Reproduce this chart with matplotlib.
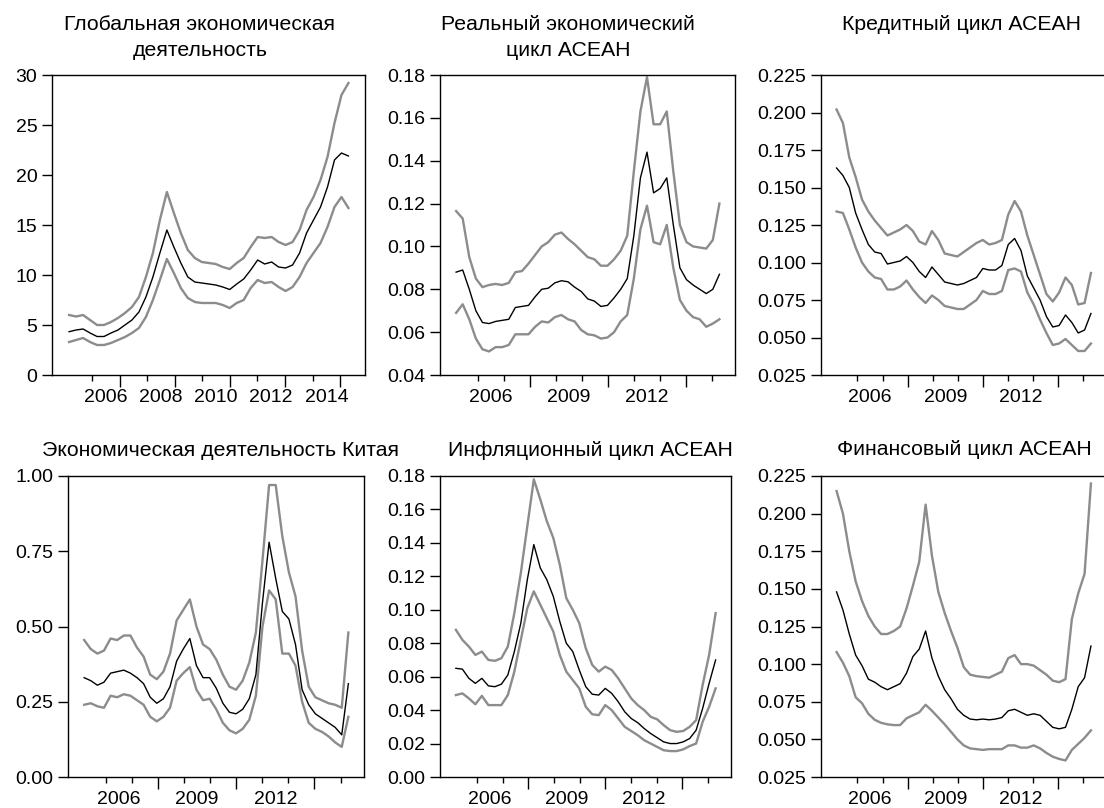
import numpy as np
import matplotlib
matplotlib.use('Agg')
import matplotlib.pyplot as plt

plt.rcParams['font.family'] = ['Liberation Sans', 'DejaVu Sans']

# quarterly-ish time index, spring 2005 .. spring 2015
dates = np.linspace(2005.17, 2015.3, 41)

# Глобальная экономическая деятельность
glob_mid = [4.33, 4.5, 4.6, 4.2, 3.85, 3.85, 4.2, 4.5, 5.0, 5.5, 6.3, 7.8, 9.8, 12.2, 14.5, 12.8, 11.2, 9.8, 9.3, 9.2,
            9.1, 9.0, 8.8, 8.55, 9.1, 9.6, 10.5, 11.5, 11.1, 11.3, 10.8, 10.7, 11.0, 12.2, 14.2, 15.5, 16.8, 18.8, 21.5, 22.2, 21.9]
glob_hi = [6.0, 5.85, 6.0, 5.5, 5.0, 5.0, 5.3, 5.7, 6.2, 6.8, 7.8, 9.8, 12.2, 15.5, 18.3, 16.2, 14.2, 12.5, 11.7, 11.3,
           11.2, 11.1, 10.8, 10.6, 11.2, 11.7, 12.8, 13.8, 13.7, 13.8, 13.3, 13.0, 13.3, 14.5, 16.5, 17.8, 19.5, 21.8, 25.2, 28.0, 29.2]
glob_lo = [3.3, 3.5, 3.7, 3.3, 3.0, 3.0, 3.2, 3.5, 3.8, 4.2, 4.7, 5.8, 7.5, 9.5, 11.6, 10.2, 8.7, 7.7, 7.3, 7.2,
           7.2, 7.2, 7.0, 6.7, 7.2, 7.5, 8.7, 9.5, 9.2, 9.3, 8.8, 8.4, 8.8, 9.8, 11.2, 12.2, 13.2, 14.8, 16.8, 17.8, 16.7]

# Реальный экономический цикл АСЕАН
real_mid = [0.088, 0.089, 0.080, 0.070, 0.0645, 0.064, 0.065, 0.0655, 0.066, 0.0715, 0.072, 0.0725, 0.0765, 0.080,
            0.0805, 0.083, 0.084, 0.0835, 0.081, 0.079, 0.0755, 0.0745, 0.072, 0.0725, 0.076, 0.080, 0.085, 0.105,
            0.132, 0.144, 0.125, 0.127, 0.132, 0.110, 0.090, 0.0845, 0.082, 0.080, 0.078, 0.080, 0.087]
real_hi = [0.1165, 0.113, 0.095, 0.085, 0.081, 0.082, 0.0825, 0.082, 0.083, 0.088, 0.0885, 0.092, 0.096, 0.100,
           0.102, 0.1055, 0.1065, 0.1035, 0.101, 0.098, 0.095, 0.094, 0.091, 0.091, 0.094, 0.098, 0.105, 0.135,
           0.163, 0.179, 0.157, 0.157, 0.163, 0.135, 0.110, 0.102, 0.100, 0.0995, 0.099, 0.103, 0.120]
real_lo = [0.069, 0.073, 0.066, 0.057, 0.052, 0.051, 0.053, 0.053, 0.054, 0.059, 0.059, 0.059, 0.0625, 0.065,
           0.0645, 0.067, 0.068, 0.066, 0.065, 0.061, 0.059, 0.0585, 0.057, 0.0575, 0.060, 0.065, 0.068, 0.085,
           0.108, 0.119, 0.102, 0.101, 0.110, 0.090, 0.075, 0.070, 0.067, 0.066, 0.0625, 0.064, 0.066]

# Кредитный цикл АСЕАН
cred_mid = [0.163, 0.158, 0.150, 0.133, 0.122, 0.112, 0.107, 0.106, 0.099, 0.100, 0.101, 0.104, 0.100, 0.094,
            0.090, 0.097, 0.092, 0.087, 0.086, 0.085, 0.086, 0.088, 0.090, 0.096, 0.095, 0.095, 0.098, 0.112,
            0.116, 0.108, 0.091, 0.083, 0.075, 0.064, 0.057, 0.058, 0.065, 0.060, 0.053, 0.055, 0.066]
cred_hi = [0.202, 0.193, 0.170, 0.157, 0.142, 0.134, 0.128, 0.123, 0.118, 0.120, 0.122, 0.125, 0.121, 0.114,
           0.112, 0.121, 0.115, 0.106, 0.105, 0.104, 0.107, 0.110, 0.113, 0.115, 0.112, 0.113, 0.115, 0.132,
           0.141, 0.134, 0.118, 0.105, 0.092, 0.079, 0.074, 0.080, 0.090, 0.085, 0.072, 0.073, 0.093]
cred_lo = [0.134, 0.133, 0.122, 0.110, 0.100, 0.094, 0.090, 0.089, 0.082, 0.082, 0.084, 0.088, 0.082, 0.077,
           0.073, 0.078, 0.075, 0.071, 0.070, 0.069, 0.069, 0.072, 0.075, 0.081, 0.079, 0.079, 0.081, 0.095,
           0.096, 0.094, 0.080, 0.072, 0.062, 0.053, 0.045, 0.046, 0.049, 0.045, 0.041, 0.041, 0.046]

# Экономическая деятельность Китая
china_mid = [0.33, 0.32, 0.305, 0.315, 0.345, 0.35, 0.355, 0.345, 0.33, 0.31, 0.265, 0.245, 0.26, 0.30, 0.385,
             0.425, 0.46, 0.37, 0.33, 0.33, 0.295, 0.245, 0.215, 0.21, 0.225, 0.26, 0.34, 0.58, 0.78, 0.66, 0.55,
             0.525, 0.44, 0.29, 0.24, 0.21, 0.195, 0.18, 0.165, 0.14, 0.31]
china_hi = [0.455, 0.425, 0.41, 0.42, 0.46, 0.455, 0.47, 0.47, 0.43, 0.40, 0.34, 0.325, 0.35, 0.41, 0.52, 0.555,
            0.59, 0.50, 0.44, 0.425, 0.39, 0.34, 0.30, 0.29, 0.32, 0.38, 0.48, 0.72, 0.97, 0.97, 0.80, 0.68, 0.60,
            0.42, 0.30, 0.265, 0.255, 0.245, 0.24, 0.23, 0.48]
china_lo = [0.24, 0.245, 0.235, 0.23, 0.27, 0.265, 0.275, 0.27, 0.255, 0.24, 0.20, 0.185, 0.20, 0.23, 0.32, 0.345,
            0.365, 0.29, 0.255, 0.26, 0.225, 0.18, 0.155, 0.145, 0.16, 0.19, 0.27, 0.50, 0.62, 0.59, 0.41, 0.41,
            0.37, 0.25, 0.18, 0.16, 0.15, 0.135, 0.115, 0.10, 0.20]

# Инфляционный цикл АСЕАН
infl_mid = [0.065, 0.0645, 0.059, 0.056, 0.059, 0.0545, 0.054, 0.0555, 0.061, 0.075, 0.092, 0.118, 0.139, 0.125,
            0.118, 0.108, 0.093, 0.080, 0.075, 0.064, 0.054, 0.0495, 0.049, 0.053, 0.050, 0.045, 0.039, 0.035,
            0.0325, 0.029, 0.026, 0.0235, 0.021, 0.020, 0.020, 0.021, 0.023, 0.028, 0.041, 0.056, 0.070]
infl_hi = [0.088, 0.082, 0.078, 0.073, 0.075, 0.070, 0.0695, 0.071, 0.078, 0.098, 0.122, 0.150, 0.178, 0.166,
           0.153, 0.143, 0.127, 0.107, 0.100, 0.092, 0.077, 0.067, 0.063, 0.066, 0.064, 0.059, 0.053, 0.047,
           0.043, 0.040, 0.036, 0.0345, 0.031, 0.028, 0.027, 0.0275, 0.030, 0.034, 0.055, 0.073, 0.098]
infl_lo = [0.049, 0.050, 0.047, 0.0435, 0.0485, 0.043, 0.043, 0.043, 0.049, 0.063, 0.082, 0.101, 0.111, 0.103,
           0.095, 0.087, 0.073, 0.063, 0.058, 0.053, 0.042, 0.0375, 0.037, 0.043, 0.040, 0.035, 0.030, 0.0275,
           0.025, 0.022, 0.020, 0.018, 0.016, 0.0155, 0.0155, 0.0165, 0.0185, 0.020, 0.033, 0.042, 0.053]

# Финансовый цикл АСЕАН
fin_mid = [0.148, 0.136, 0.120, 0.106, 0.099, 0.090, 0.088, 0.085, 0.083, 0.085, 0.087, 0.094, 0.105, 0.110,
           0.122, 0.104, 0.092, 0.083, 0.077, 0.070, 0.066, 0.0635, 0.063, 0.0635, 0.063, 0.0635, 0.0645, 0.069,
           0.070, 0.068, 0.066, 0.067, 0.066, 0.062, 0.058, 0.057, 0.058, 0.070, 0.085, 0.091, 0.112]
fin_hi = [0.215, 0.200, 0.175, 0.155, 0.142, 0.132, 0.125, 0.120, 0.120, 0.122, 0.125, 0.137, 0.152, 0.168,
          0.206, 0.172, 0.148, 0.134, 0.122, 0.111, 0.098, 0.093, 0.092, 0.0915, 0.091, 0.093, 0.095, 0.104,
          0.106, 0.100, 0.100, 0.099, 0.096, 0.093, 0.089, 0.088, 0.090, 0.130, 0.147, 0.160, 0.220]
fin_lo = [0.108, 0.101, 0.092, 0.078, 0.074, 0.067, 0.063, 0.061, 0.060, 0.0595, 0.0595, 0.064, 0.066, 0.068,
          0.073, 0.069, 0.0645, 0.060, 0.055, 0.050, 0.046, 0.044, 0.0435, 0.043, 0.0435, 0.0435, 0.0435, 0.046,
          0.046, 0.0445, 0.0445, 0.046, 0.044, 0.041, 0.0385, 0.037, 0.036, 0.043, 0.047, 0.051, 0.056]

W, H = 1104, 808
fig = plt.figure(figsize=(W / 100, H / 100), dpi=100)

def px_axes(left, top, right, bottom):
    return fig.add_axes([left / W, 1 - bottom / H, (right - left) / W, (bottom - top) / H])

def draw_panel(ax, lo, mid, hi, yticks, fmt, long_years, label_years):
    ax.plot(dates, hi, color='#8c8c8c', lw=1.7)
    ax.plot(dates, lo, color='#8c8c8c', lw=1.7)
    ax.plot(dates, mid, color='black', lw=1.0)
    ax.set_xlim(2004.55, 2015.9)
    ax.set_ylim(yticks[0], yticks[-1])
    ax.set_yticks(yticks, [fmt.format(v) for v in yticks])
    ax.tick_params(axis='y', length=7.5, width=1, pad=3, labelsize=14)
    ax.set_xticks([y + 0.5 for y in label_years], [str(y) for y in label_years])
    ax.tick_params(axis='x', which='major', length=0, pad=10, labelsize=14)
    ax.set_xticks([y for y in range(2006, 2016) if y not in long_years], minor=True)
    ax.tick_params(axis='x', which='minor', length=4.2, width=1)
    sec = ax.secondary_xaxis('bottom')
    sec.set_xticks(long_years)
    sec.tick_params(length=8.5, width=1, labelbottom=False)
    sec.spines['bottom'].set_visible(False)
    for s in ax.spines.values():
        s.set_linewidth(1.0)

yrs3 = [2008, 2011, 2014]
lab3 = [2006, 2009, 2012]

ax1 = px_axes(52, 75, 365, 375)
draw_panel(ax1, glob_lo, glob_mid, glob_hi, [0, 5, 10, 15, 20, 25, 30], '{:.0f}',
           [2007, 2009, 2011, 2013, 2015], [2006, 2008, 2010, 2012, 2014])
ax2 = px_axes(440, 75, 735, 375)
draw_panel(ax2, real_lo, real_mid, real_hi, [0.04, 0.06, 0.08, 0.10, 0.12, 0.14, 0.16, 0.18], '{:.2f}', yrs3, lab3)
ax3 = px_axes(821, 75, 1106, 375)
draw_panel(ax3, cred_lo, cred_mid, cred_hi, [0.025, 0.05, 0.075, 0.1, 0.125, 0.15, 0.175, 0.2, 0.225], '{:.3f}', yrs3, lab3)
ax4 = px_axes(68, 476, 364, 777)
draw_panel(ax4, china_lo, china_mid, china_hi, [0, 0.25, 0.5, 0.75, 1.0], '{:.2f}', yrs3, lab3)
ax5 = px_axes(440, 476, 731, 777)
draw_panel(ax5, infl_lo, infl_mid, infl_hi, [0, 0.02, 0.04, 0.06, 0.08, 0.10, 0.12, 0.14, 0.16, 0.18], '{:.2f}', yrs3, lab3)
ax6 = px_axes(821, 476, 1106, 777)
draw_panel(ax6, fin_lo, fin_mid, fin_hi, [0.025, 0.05, 0.075, 0.1, 0.125, 0.15, 0.175, 0.2, 0.225], '{:.3f}', yrs3, lab3)

def title(x, y, s):
    fig.text(x / W, 1 - y / H, s, ha='center', va='center', fontsize=15.3)

title(200, 25, 'Глобальная экономическая')
title(200, 50, 'деятельность')
title(568, 25, 'Реальный экономический')
title(568, 50, 'цикл АСЕАН')
title(961, 24, 'Кредитный цикл АСЕАН')
title(220, 450, 'Экономическая деятельность Китая')
title(590, 450, 'Инфляционный цикл АСЕАН')
title(964, 449, 'Финансовый цикл АСЕАН')

fig.savefig('out.png', dpi=100)
